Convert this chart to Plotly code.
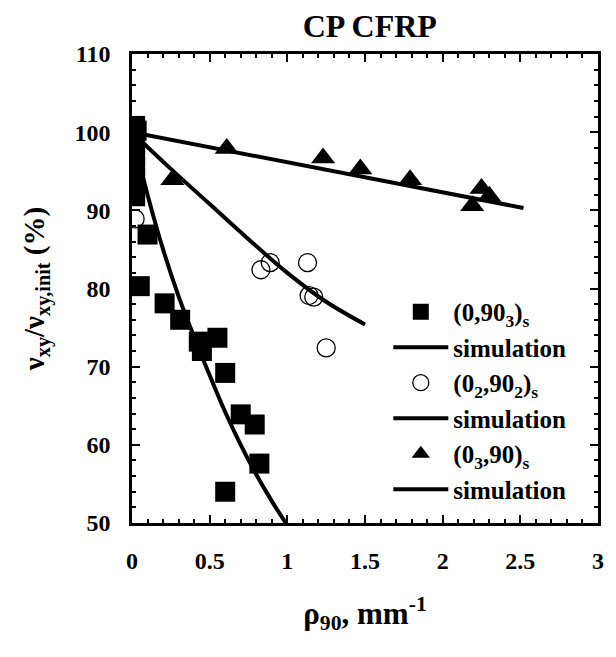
import plotly.graph_objects as go

# ---- data ----
sq_x = [0.02, 0.03, 0.02, 0.02, 0.02, 0.02, 0.02, 0.02, 0.10, 0.05, 0.21, 0.31, 0.43, 0.45, 0.55, 0.60, 0.70, 0.79, 0.82, 0.60]
sq_y = [100.8, 100.2, 98.5, 97.0, 95.5, 94.0, 92.8, 91.8, 86.9, 80.3, 78.1, 76.0, 73.2, 72.0, 73.7, 69.2, 63.9, 62.6, 57.6, 54.0]

sim1_x = [0.0, 0.1, 0.2, 0.3, 0.4, 0.5, 0.6, 0.7, 0.8, 0.9, 1.0]
sim1_y = [100.0, 92.0, 85.0, 79.0, 73.8, 68.9, 64.2, 60.0, 56.2, 52.8, 49.7]

ci_x = [0.00, 0.02, 0.83, 0.89, 1.13, 1.14, 1.17, 1.25]
ci_y = [97.5, 88.9, 82.4, 83.3, 83.3, 79.1, 78.9, 72.4]

sim2_x = [0.0, 0.25, 0.5, 0.75, 1.0, 1.25, 1.5]
sim2_y = [100.0, 95.3, 90.8, 86.3, 82.0, 78.3, 75.4]

tr_x = [0.26, 0.61, 1.23, 1.47, 1.79, 2.25, 2.30, 2.19]
tr_y = [93.9, 97.9, 96.7, 95.3, 93.9, 92.8, 91.8, 90.6]

sim3_x = [0.0, 0.5, 1.0, 1.5, 2.0, 2.52]
sim3_y = [100.0, 98.1, 96.2, 94.2, 92.3, 90.3]

x_ticks = [0, 0.5, 1, 1.5, 2, 2.5, 3]
x_labels = ["0", "0.5", "1", "1.5", "2", "2.5", "3"]
y_ticks = [50, 60, 70, 80, 90, 100, 110]

FONT = "Liberation Serif"
LW = 4

fig = go.Figure()
fig.add_trace(go.Scatter(x=sq_x, y=sq_y, mode="markers", name="(0,90<sub>3</sub>)<sub>s</sub>",
                         marker=dict(symbol="square", size=20, color="black"), legendgroup="a"))
fig.add_trace(go.Scatter(x=sim1_x, y=sim1_y, mode="lines", name="simulation", line_shape="spline",
                         line=dict(color="black", width=LW), legendgroup="b"))
fig.add_trace(go.Scatter(x=ci_x, y=ci_y, mode="markers", name="(0<sub>2</sub>,90<sub>2</sub>)<sub>s</sub>",
                         marker=dict(symbol="circle-open", size=18, color="black", line=dict(width=1.3)), legendgroup="c"))
fig.add_trace(go.Scatter(x=sim2_x, y=sim2_y, mode="lines", name="simulation", line_shape="spline",
                         line=dict(color="black", width=LW), legendgroup="d"))
fig.add_trace(go.Scatter(x=tr_x, y=tr_y, mode="markers", name="(0<sub>3</sub>,90)<sub>s</sub>",
                         marker=dict(symbol="triangle-up", size=21, color="black"), legendgroup="e"))
fig.add_trace(go.Scatter(x=sim3_x, y=sim3_y, mode="lines", name="simulation",
                         line=dict(color="black", width=LW), legendgroup="f"))

axis_common = dict(showline=True, linecolor="black", linewidth=2.5, mirror="allticks",
                   ticks="inside", ticklen=8, tickwidth=2, tickcolor="black",
                   showgrid=False, zeroline=False,
                   tickfont=dict(family=FONT, size=24, color="black", weight="bold"))

fig.update_xaxes(range=[0, 3], tickvals=x_ticks, ticktext=x_labels, ticklabelstandoff=14,
                 minor=dict(dtick=0.1, ticks="inside", ticklen=4, tickwidth=1.5, tickcolor="black"),
                 title=dict(text="ρ<sub>90</sub>, mm<sup>-1</sup>", standoff=30,
                            font=dict(family=FONT, size=31, color="black", weight="bold")),
                 **axis_common)
fig.update_yaxes(range=[50, 110], tickvals=y_ticks, ticklabelstandoff=14,
                 minor=dict(dtick=2, ticks="inside", ticklen=4, tickwidth=1.5, tickcolor="black"),
                 title=dict(text="ν<sub>xy</sub>/ν<sub>xy,init</sub> (%)", standoff=22,
                            font=dict(family=FONT, size=29, color="black", weight="bold")),
                 **axis_common)

fig.update_layout(
    width=600, height=641,
    margin=dict(l=124, r=4, t=46, b=126),
    paper_bgcolor="white", plot_bgcolor="white",
    font=dict(family=FONT, color="black", weight="bold"),
    title=dict(text="CP CFRP", x=0.603, xanchor="center", y=0.99, yanchor="top",
               font=dict(family=FONT, size=32, color="black", weight="bold")),
    legend=dict(x=0.55, y=0.499, xanchor="left", yanchor="top", bgcolor="rgba(0,0,0,0)",
                font=dict(family=FONT, size=25, color="black", weight="bold"),
                itemwidth=55, tracegroupgap=0, traceorder="normal"),
)

fig.write_html("out.html")
